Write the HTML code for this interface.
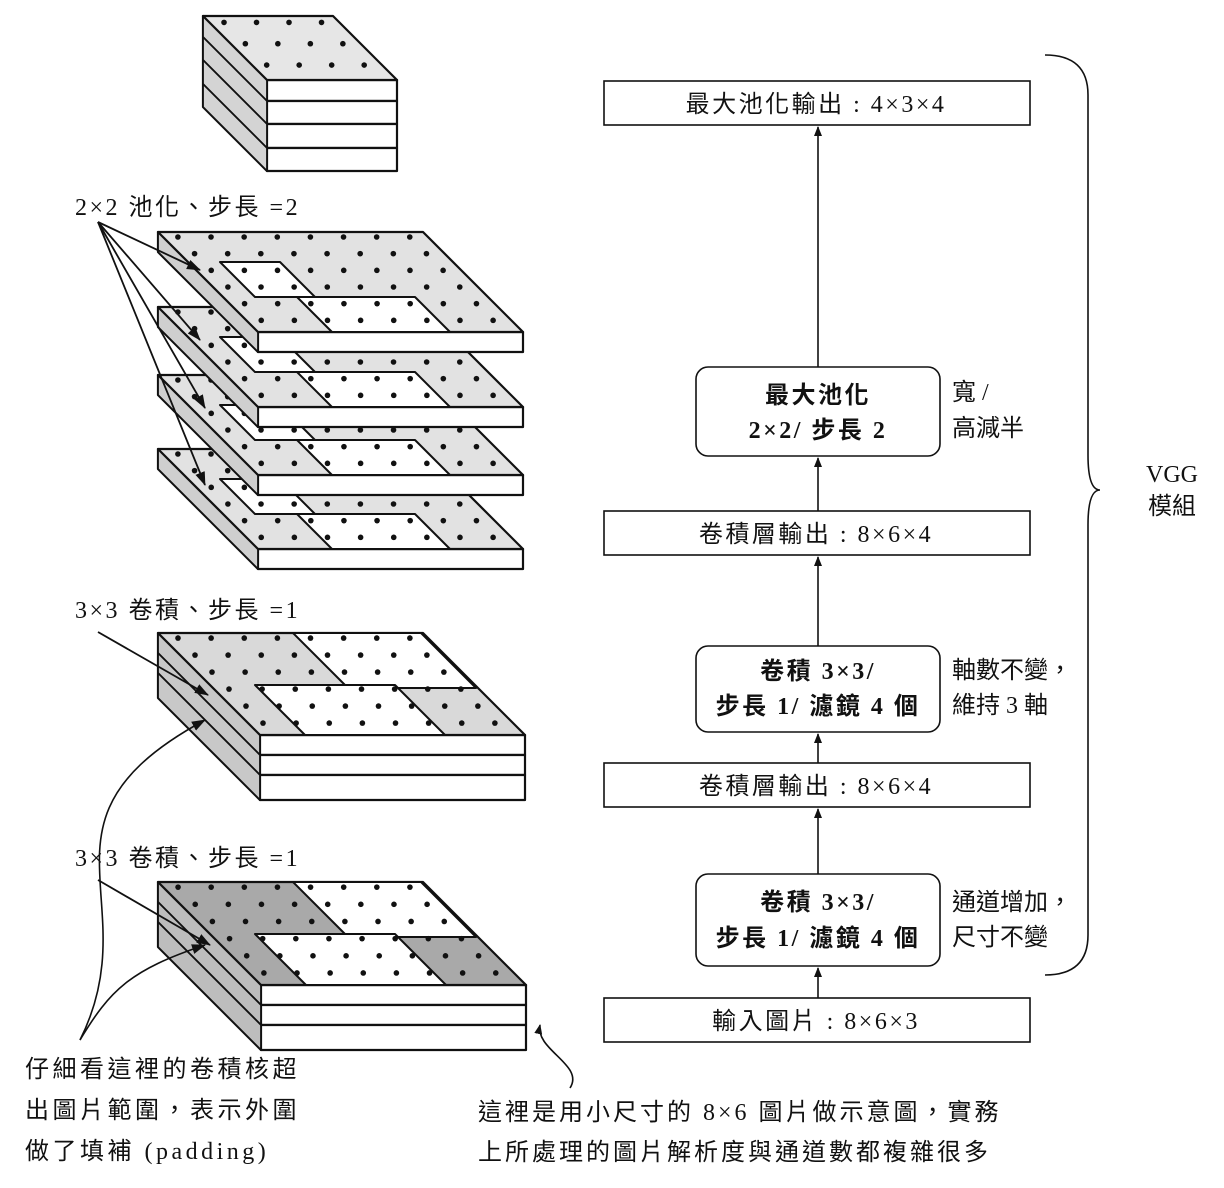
<!DOCTYPE html>
<html><head><meta charset="utf-8">
<style>
body{margin:0;background:#fff;}
svg{display:block}
text{font-family:"Liberation Serif","Noto Sans CJK TC",serif;fill:#111}
</style></head><body>
<svg id="s" width="1224" height="1188" viewBox="0 0 1224 1188" xmlns="http://www.w3.org/2000/svg">
<defs>
<marker id="ah" markerWidth="10" markerHeight="10" refX="9" refY="5" orient="auto" markerUnits="userSpaceOnUse"><path d="M0,1 L10,5 L0,9 z" fill="#111"/></marker>
<marker id="ah2" markerWidth="14" markerHeight="14" refX="13" refY="7" orient="auto" markerUnits="userSpaceOnUse"><path d="M0,2 L14,7 L0,12 z" fill="#111"/></marker>
</defs>
<g id="L" stroke="#111" stroke-width="2.2" stroke-linejoin="round"></g>
<g fill="none" stroke="#111" stroke-width="1.6">
<rect x="604" y="81" width="426" height="44" fill="#fff"/>
<rect x="696" y="367" width="244" height="89" rx="12" fill="#fff"/>
<rect x="604" y="511" width="426" height="44" fill="#fff"/>
<rect x="696" y="646" width="244" height="86" rx="12" fill="#fff"/>
<rect x="604" y="763" width="426" height="44" fill="#fff"/>
<rect x="696" y="874" width="244" height="92" rx="12" fill="#fff"/>
<rect x="604" y="998" width="426" height="44" fill="#fff"/>
<line x1="818" y1="367" x2="818" y2="127" marker-end="url(#ah)"/>
<line x1="818" y1="511" x2="818" y2="458" marker-end="url(#ah)"/>
<line x1="818" y1="646" x2="818" y2="557" marker-end="url(#ah)"/>
<line x1="818" y1="763" x2="818" y2="734" marker-end="url(#ah)"/>
<line x1="818" y1="874" x2="818" y2="809" marker-end="url(#ah)"/>
<line x1="818" y1="998" x2="818" y2="968" marker-end="url(#ah)"/>
<path d="M1045,55 Q1088,55 1088,95 L1088,455 Q1088,490 1100,490 Q1088,490 1088,525 L1088,935 Q1088,975 1045,975"/>
<path d="M80,1040 C150,900 20,820 205,720" marker-end="url(#ah2)"/>
<path d="M80,1040 C110,990 130,970 205,945" marker-end="url(#ah2)"/>
<path d="M570,1088 C585,1065 535,1050 540,1025" marker-end="url(#ah)"/>
</g>
<g font-size="24" letter-spacing="2.5">
<text x="816" y="112" text-anchor="middle">最大池化輸出 : 4×3×4</text>
<text x="818" y="403" text-anchor="middle" font-weight="bold">最大池化</text>
<text x="818" y="438" text-anchor="middle" font-weight="bold">2×2/ 步長 2</text>
<text x="816" y="542" text-anchor="middle">卷積層輸出 : 8×6×4</text>
<text x="818" y="679" text-anchor="middle" font-weight="bold">卷積 3×3/</text>
<text x="818" y="714" text-anchor="middle" font-weight="bold">步長 1/ 濾鏡 4 個</text>
<text x="816" y="794" text-anchor="middle">卷積層輸出 : 8×6×4</text>
<text x="818" y="910" text-anchor="middle" font-weight="bold">卷積 3×3/</text>
<text x="818" y="946" text-anchor="middle" font-weight="bold">步長 1/ 濾鏡 4 個</text>
<text x="816" y="1029" text-anchor="middle">輸入圖片 : 8×6×3</text>
<g letter-spacing="0">
<text x="952" y="400">寬 /</text>
<text x="952" y="436">高減半</text>
<text x="952" y="678">軸數不變，</text>
<text x="952" y="713">維持 3 軸</text>
<text x="952" y="910">通道增加，</text>
<text x="952" y="945">尺寸不變</text>
<text x="1172" y="482" text-anchor="middle">VGG</text>
<text x="1172" y="514" text-anchor="middle">模組</text>
</g>
<text x="75" y="215">2×2 池化、步長 =2</text>
<text x="75" y="618">3×3 卷積、步長 =1</text>
<text x="75" y="866">3×3 卷積、步長 =1</text>
<text x="25" y="1077" letter-spacing="3.5">仔細看這裡的卷積核超</text>
<text x="25" y="1118" letter-spacing="3.5">出圖片範圍，表示外圍</text>
<text x="25" y="1159" letter-spacing="3.5">做了填補 (padding)</text>
<text x="478" y="1120" letter-spacing="3">這裡是用小尺寸的 8×6 圖片做示意圖，實務</text>
<text x="478" y="1160" letter-spacing="3">上所處理的圖片解析度與通道數都複雜很多</text>
</g>
</svg>
<script>
var g=document.getElementById('L'),NS='http://www.w3.org/2000/svg';
function el(t,a){var e=document.createElementNS(NS,t);for(var k in a)e.setAttribute(k,a[k]);g.appendChild(e);return e;}
function poly(p,f,sw){return el('polygon',{points:p.map(function(q){return q[0]+','+q[1]}).join(' '),fill:f,'stroke-width':sw||2.2});}
function slab(x0,y0,w,d,ts,top,side,cols,rows,wins){
 var t=ts.reduce(function(a,b){return a+b},0);
 poly([[x0,y0],[x0+d,y0+d],[x0+d,y0+d+t],[x0,y0+t]],side);
 var yy=y0+d;
 ts.forEach(function(h){poly([[x0+d,yy],[x0+d+w,yy],[x0+d+w,yy+h],[x0+d,yy+h]],'#fff');poly([[x0,yy-d],[x0+d,yy],[x0+d,yy+h],[x0,yy-d+h]],side,1.8);yy+=h;});
 poly([[x0,y0],[x0+w,y0],[x0+w+d,y0+d],[x0+d,y0+d]],top);
 (wins||[]).forEach(function(W){var yb=y0+W[0],yf=y0+W[3],o1=W[0],o2=W[3];
  poly([[x0+W[1]+o1,yb],[x0+W[2]+o1,yb],[x0+W[2]+o2,yf],[x0+W[1]+o2,yf]],'#fff',2);});
 for(var r=0;r<rows;r++)for(var c=0;c<cols;c++){var fy=(r+0.3)/rows*d;var x=x0+fy+(c+0.45)*w/cols;
  el('circle',{cx:x,cy:y0+fy,r:2.8,fill:'#111',stroke:'none'});}
}
slab(203,16,130,64,[21,23,24,23],'#e6e6e6','#d4d4d4',4,3);
var py=[232,307,375,449];
for(var i=3;i>=0;i--)slab(158,py[i],265,100,[20],'#e2e2e2','#cfcfcf',8,6,[[30,32,92,65],[65,74,192,100]]);
slab(158,633,265,102,[20,20,25],'#d9d9d9','#c8c8c8',8,6,[[0,135,263,55],[52,45,185,102]]);
slab(158,882,265,103,[20,20,25],'#a9a9a9','#bdbdbd',8,6,[[0,135,263,55],[52,45,185,103]]);
var m=document.createElementNS(NS,'g');m.setAttribute('stroke','#111');m.setAttribute('stroke-width','1.8');m.setAttribute('fill','none');g.appendChild(m);
function ar(x1,y1,x2,y2){var l=document.createElementNS(NS,'line');l.setAttribute('x1',x1);l.setAttribute('y1',y1);l.setAttribute('x2',x2);l.setAttribute('y2',y2);l.setAttribute('marker-end','url(#ah2)');m.appendChild(l);}
ar(98,222,200,270);ar(98,222,200,340);ar(98,222,205,408);ar(98,222,205,485);
ar(98,632,208,695);ar(98,880,210,945);
</script>
</body></html>
